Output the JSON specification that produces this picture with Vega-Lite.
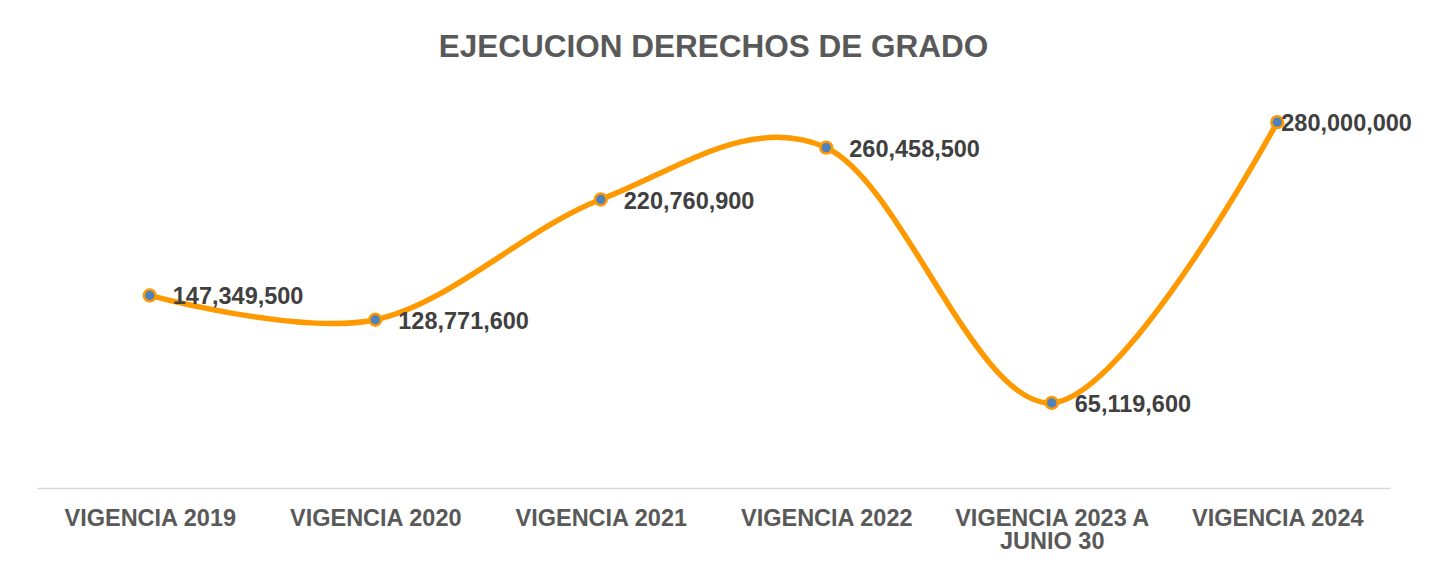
{
  "$schema": "https://vega.github.io/schema/vega-lite/v6.json",
  "width": 1353,
  "height": 392,
  "autosize": {"type": "none"},
  "padding": {"left": 37, "top": 96, "right": 39, "bottom": 81},
  "background": "white",
  "config": {"view": {"stroke": null}, "font": "Liberation Sans"},
  "title": {
    "text": "EJECUCION DERECHOS DE GRADO",
    "font": "Liberation Sans",
    "fontSize": 31.5,
    "fontWeight": "bold",
    "color": "#595959",
    "anchor": "middle",
    "offset": 33
  },
  "data": {
    "values": [
      {"vigencia": "VIGENCIA 2019", "valor": 147349500},
      {"vigencia": "VIGENCIA 2020", "valor": 128771600},
      {"vigencia": "VIGENCIA 2021", "valor": 220760900},
      {"vigencia": "VIGENCIA 2022", "valor": 260458500},
      {"vigencia": "VIGENCIA 2023 A JUNIO 30", "valor": 65119600},
      {"vigencia": "VIGENCIA 2024", "valor": 280000000}
    ]
  },
  "encoding": {
    "x": {
      "field": "vigencia",
      "type": "nominal",
      "sort": null,
      "scale": {"type": "point", "padding": 0.5},
      "axis": {
        "title": null,
        "labelAngle": 0,
        "labelFont": "Liberation Sans",
        "labelFontSize": 23.5,
        "labelFontWeight": "bold",
        "labelColor": "#595959",
        "labelPadding": 18,
        "labelLimit": 0,
        "labelLineHeight": 23.5,
        "labelExpr": "datum.label == 'VIGENCIA 2023 A JUNIO 30' ? ['VIGENCIA 2023 A', 'JUNIO 30'] : datum.label",
        "ticks": false,
        "domainColor": "#d9d9d9",
        "domainWidth": 1.5,
        "grid": false
      }
    },
    "y": {
      "field": "valor",
      "type": "quantitative",
      "scale": {"domain": [0, 300000000], "nice": false},
      "axis": null
    }
  },
  "layer": [
    {
      "mark": {"type": "line", "interpolate": "cardinal", "color": "#FF9900", "strokeWidth": 5.5}
    },
    {
      "mark": {"type": "point", "filled": true, "fill": "#4F81BD", "stroke": "#FF9900", "strokeWidth": 2.5, "size": 140, "opacity": 1, "shape": "circle"}
    },
    {
      "transform": [{"filter": "datum.vigencia != 'VIGENCIA 2024'"}],
      "mark": {"type": "text", "align": "left", "baseline": "middle", "dx": 23, "dy": 2, "font": "Liberation Sans", "fontSize": 23.5, "fontWeight": "bold", "color": "#404040"},
      "encoding": {"text": {"field": "valor", "type": "quantitative", "format": ","}}
    },
    {
      "transform": [{"filter": "datum.vigencia == 'VIGENCIA 2024'"}],
      "mark": {"type": "text", "align": "left", "baseline": "middle", "dx": 4, "dy": 2, "font": "Liberation Sans", "fontSize": 23.5, "fontWeight": "bold", "color": "#404040"},
      "encoding": {"text": {"field": "valor", "type": "quantitative", "format": ","}}
    }
  ]
}
